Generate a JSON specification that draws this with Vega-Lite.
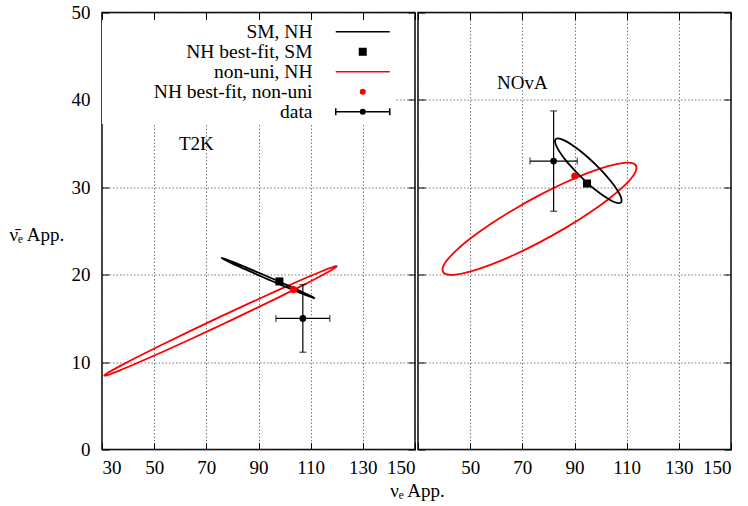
{
  "$schema": "https://vega.github.io/schema/vega-lite/v6.json",
  "padding": {"left": 8, "top": 2.5, "right": 2, "bottom": 0},
  "bounds": "flush",
  "spacing": 3,
  "datasets": {
    "ell": [
      {"e":"T2K","s":"non-uni, NH","k":0,"x":120.00,"y":20.96},
      {"e":"T2K","s":"non-uni, NH","k":1,"x":118.48,"y":20.62},
      {"e":"T2K","s":"non-uni, NH","k":2,"x":114.03,"y":19.88},
      {"e":"T2K","s":"non-uni, NH","k":3,"x":106.95,"y":18.78},
      {"e":"T2K","s":"non-uni, NH","k":4,"x":97.72,"y":17.41},
      {"e":"T2K","s":"non-uni, NH","k":5,"x":86.97,"y":15.86},
      {"e":"T2K","s":"non-uni, NH","k":6,"x":75.44,"y":14.22},
      {"e":"T2K","s":"non-uni, NH","k":7,"x":63.91,"y":12.62},
      {"e":"T2K","s":"non-uni, NH","k":8,"x":53.16,"y":11.16},
      {"e":"T2K","s":"non-uni, NH","k":9,"x":43.93,"y":9.95},
      {"e":"T2K","s":"non-uni, NH","k":10,"x":36.85,"y":9.05},
      {"e":"T2K","s":"non-uni, NH","k":11,"x":32.40,"y":8.55},
      {"e":"T2K","s":"non-uni, NH","k":12,"x":30.88,"y":8.46},
      {"e":"T2K","s":"non-uni, NH","k":13,"x":32.40,"y":8.80},
      {"e":"T2K","s":"non-uni, NH","k":14,"x":36.85,"y":9.54},
      {"e":"T2K","s":"non-uni, NH","k":15,"x":43.93,"y":10.64},
      {"e":"T2K","s":"non-uni, NH","k":16,"x":53.16,"y":12.01},
      {"e":"T2K","s":"non-uni, NH","k":17,"x":63.91,"y":13.57},
      {"e":"T2K","s":"non-uni, NH","k":18,"x":75.44,"y":15.20},
      {"e":"T2K","s":"non-uni, NH","k":19,"x":86.97,"y":16.80},
      {"e":"T2K","s":"non-uni, NH","k":20,"x":97.72,"y":18.26},
      {"e":"T2K","s":"non-uni, NH","k":21,"x":106.95,"y":19.48},
      {"e":"T2K","s":"non-uni, NH","k":22,"x":114.03,"y":20.37},
      {"e":"T2K","s":"non-uni, NH","k":23,"x":118.48,"y":20.87},
      {"e":"T2K","s":"SM, NH","k":0,"x":111.40,"y":17.33},
      {"e":"T2K","s":"SM, NH","k":1,"x":110.80,"y":17.37},
      {"e":"T2K","s":"SM, NH","k":2,"x":109.02,"y":17.56},
      {"e":"T2K","s":"SM, NH","k":3,"x":106.20,"y":17.90},
      {"e":"T2K","s":"SM, NH","k":4,"x":102.53,"y":18.35},
      {"e":"T2K","s":"SM, NH","k":5,"x":98.24,"y":18.88},
      {"e":"T2K","s":"SM, NH","k":6,"x":93.65,"y":19.47},
      {"e":"T2K","s":"SM, NH","k":7,"x":89.06,"y":20.07},
      {"e":"T2K","s":"SM, NH","k":8,"x":84.78,"y":20.64},
      {"e":"T2K","s":"SM, NH","k":9,"x":81.10,"y":21.13},
      {"e":"T2K","s":"SM, NH","k":10,"x":78.28,"y":21.53},
      {"e":"T2K","s":"SM, NH","k":11,"x":76.51,"y":21.79},
      {"e":"T2K","s":"SM, NH","k":12,"x":75.90,"y":21.91},
      {"e":"T2K","s":"SM, NH","k":13,"x":76.51,"y":21.87},
      {"e":"T2K","s":"SM, NH","k":14,"x":78.28,"y":21.68},
      {"e":"T2K","s":"SM, NH","k":15,"x":81.10,"y":21.35},
      {"e":"T2K","s":"SM, NH","k":16,"x":84.78,"y":20.90},
      {"e":"T2K","s":"SM, NH","k":17,"x":89.06,"y":20.36},
      {"e":"T2K","s":"SM, NH","k":18,"x":93.65,"y":19.77},
      {"e":"T2K","s":"SM, NH","k":19,"x":98.24,"y":19.17},
      {"e":"T2K","s":"SM, NH","k":20,"x":102.53,"y":18.61},
      {"e":"T2K","s":"SM, NH","k":21,"x":106.20,"y":18.11},
      {"e":"T2K","s":"SM, NH","k":22,"x":109.02,"y":17.71},
      {"e":"T2K","s":"SM, NH","k":23,"x":110.80,"y":17.45},
      {"e":"NOvA","s":"non-uni, NH","k":0,"x":113.78,"y":32.23},
      {"e":"NOvA","s":"non-uni, NH","k":1,"x":112.51,"y":31.33},
      {"e":"NOvA","s":"non-uni, NH","k":2,"x":108.80,"y":30.10},
      {"e":"NOvA","s":"non-uni, NH","k":3,"x":102.89,"y":28.61},
      {"e":"NOvA","s":"non-uni, NH","k":4,"x":95.19,"y":26.98},
      {"e":"NOvA","s":"non-uni, NH","k":5,"x":86.22,"y":25.30},
      {"e":"NOvA","s":"non-uni, NH","k":6,"x":76.59,"y":23.70},
      {"e":"NOvA","s":"non-uni, NH","k":7,"x":66.97,"y":22.28},
      {"e":"NOvA","s":"non-uni, NH","k":8,"x":58.00,"y":21.15},
      {"e":"NOvA","s":"non-uni, NH","k":9,"x":50.29,"y":20.37},
      {"e":"NOvA","s":"non-uni, NH","k":10,"x":44.38,"y":20.00},
      {"e":"NOvA","s":"non-uni, NH","k":11,"x":40.67,"y":20.07},
      {"e":"NOvA","s":"non-uni, NH","k":12,"x":39.40,"y":20.57},
      {"e":"NOvA","s":"non-uni, NH","k":13,"x":40.67,"y":21.47},
      {"e":"NOvA","s":"non-uni, NH","k":14,"x":44.38,"y":22.70},
      {"e":"NOvA","s":"non-uni, NH","k":15,"x":50.29,"y":24.19},
      {"e":"NOvA","s":"non-uni, NH","k":16,"x":58.00,"y":25.82},
      {"e":"NOvA","s":"non-uni, NH","k":17,"x":66.97,"y":27.50},
      {"e":"NOvA","s":"non-uni, NH","k":18,"x":76.59,"y":29.10},
      {"e":"NOvA","s":"non-uni, NH","k":19,"x":86.22,"y":30.52},
      {"e":"NOvA","s":"non-uni, NH","k":20,"x":95.19,"y":31.65},
      {"e":"NOvA","s":"non-uni, NH","k":21,"x":102.89,"y":32.43},
      {"e":"NOvA","s":"non-uni, NH","k":22,"x":108.80,"y":32.80},
      {"e":"NOvA","s":"non-uni, NH","k":23,"x":112.51,"y":32.73},
      {"e":"NOvA","s":"SM, NH","k":0,"x":108.07,"y":28.50},
      {"e":"NOvA","s":"SM, NH","k":1,"x":107.64,"y":28.23},
      {"e":"NOvA","s":"SM, NH","k":2,"x":106.36,"y":28.21},
      {"e":"NOvA","s":"SM, NH","k":3,"x":104.33,"y":28.44},
      {"e":"NOvA","s":"SM, NH","k":4,"x":101.69,"y":28.91},
      {"e":"NOvA","s":"SM, NH","k":5,"x":98.61,"y":29.57},
      {"e":"NOvA","s":"SM, NH","k":6,"x":95.30,"y":30.40},
      {"e":"NOvA","s":"SM, NH","k":7,"x":92.00,"y":31.33},
      {"e":"NOvA","s":"SM, NH","k":8,"x":88.92,"y":32.30},
      {"e":"NOvA","s":"SM, NH","k":9,"x":86.27,"y":33.23},
      {"e":"NOvA","s":"SM, NH","k":10,"x":84.24,"y":34.08},
      {"e":"NOvA","s":"SM, NH","k":11,"x":82.97,"y":34.78},
      {"e":"NOvA","s":"SM, NH","k":12,"x":82.53,"y":35.28},
      {"e":"NOvA","s":"SM, NH","k":13,"x":82.97,"y":35.55},
      {"e":"NOvA","s":"SM, NH","k":14,"x":84.24,"y":35.57},
      {"e":"NOvA","s":"SM, NH","k":15,"x":86.27,"y":35.34},
      {"e":"NOvA","s":"SM, NH","k":16,"x":88.92,"y":34.88},
      {"e":"NOvA","s":"SM, NH","k":17,"x":92.00,"y":34.21},
      {"e":"NOvA","s":"SM, NH","k":18,"x":95.30,"y":33.38},
      {"e":"NOvA","s":"SM, NH","k":19,"x":98.61,"y":32.45},
      {"e":"NOvA","s":"SM, NH","k":20,"x":101.69,"y":31.49},
      {"e":"NOvA","s":"SM, NH","k":21,"x":104.33,"y":30.55},
      {"e":"NOvA","s":"SM, NH","k":22,"x":106.36,"y":29.70},
      {"e":"NOvA","s":"SM, NH","k":23,"x":107.64,"y":29.00}
    ],
    "best": [
      {"e":"T2K","s":"NH best-fit, SM","x":98.0,"y":19.23},
      {"e":"T2K","s":"NH best-fit, non-uni","x":103.4,"y":18.29},
      {"e":"NOvA","s":"NH best-fit, SM","x":94.8,"y":30.43},
      {"e":"NOvA","s":"NH best-fit, non-uni","x":90.1,"y":31.28}
    ],
    "obs": [
      {"e":"T2K","x":107,"y":15,"xlo":96.66,"xhi":117.34,"ylo":11.13,"yhi":18.87},
      {"e":"NOvA","x":82,"y":33,"xlo":72.94,"xhi":91.06,"ylo":27.26,"yhi":38.74}
    ],
    "lab": [
      {"e":"T2K","t":"T2K","x":59.5,"y":34.9},
      {"e":"NOvA","t":"NOvA","x":60.3,"y":41.9}
    ]
  },
  "config": {
    "view": {"stroke": "black", "strokeWidth": 1.5},
    "font": "Liberation Serif",
    "axis": {
      "grid": true, "gridColor": "#555555", "gridDash": [1.5, 2], "gridWidth": 0.8,
      "domain": false, "tickColor": "black", "tickSize": -7, "tickWidth": 1,
      "labelFont": "Liberation Serif", "labelFontSize": 19, "labelColor": "black",
      "titleFont": "Liberation Serif", "titleFontSize": 19, "titleFontWeight": "normal", "titleColor": "black"
    },
    "axisX": {"labelPadding": 16},
    "axisY": {"labelPadding": 19}
  },
  "resolve": {"scale": {"color": "independent"}, "legend": {"color": "independent"}},
  "hconcat": [
    {
      "width": 313, "height": 437,
      "resolve": {"axis": {"x": "independent", "y": "independent"}},
      "layer": [
        {
          "layer": [
            {
              "data": {"name": "ell"},
              "transform": [{"filter": "datum.e === 'T2K'"}],
              "mark": {"type": "line", "interpolate": "cardinal-closed", "strokeWidth": 1.8},
              "encoding": {
                "x": {"field": "x", "type": "quantitative", "scale": {"domain": [30, 150], "nice": false, "zero": false},
                      "axis": {"orient": "bottom", "values": [30, 50, 70, 90, 110, 130, 150], "title": "\u03bd\u2091 App.", "titleX": 315, "titleY": 47, "titleBaseline": "alphabetic"}},
                "y": {"field": "y", "type": "quantitative", "scale": {"domain": [0, 50], "nice": false, "zero": false},
                      "axis": {"orient": "left", "values": [0, 10, 20, 30, 40, 50], "title": "\u03bd\u0304\u2091 App.", "titleAngle": 0, "titleAlign": "left", "titleBaseline": "middle", "titleX": -93, "titleY": 222}},
                "color": {
                  "field": "s", "type": "nominal",
                  "scale": {"domain": ["SM, NH", "NH best-fit, SM", "non-uni, NH", "NH best-fit, non-uni", "data"],
                            "range": ["#000000", "#000000", "#ff0000", "#ff0000", "#000000"]},
                  "legend": {
                    "orient": "none", "legendX": 0, "legendY": 7.6, "padding": 2,
                    "fillColor": "white", "title": null,
                    "symbolSize": 100, "symbolOffset": 249, "labelOffset": -60, "labelAlign": "right",
                    "labelFont": "Liberation Serif", "labelFontSize": 19.5, "labelColor": "black", "labelLimit": 0,
                    "rowPadding": -1.8,
                    "encode": {
                      "symbols": {"update": {
                        "shape": {"signal": "(datum.value === 'SM, NH' || datum.value === 'non-uni, NH') ? 'M-5.4,0H5.4' : datum.value === 'NH best-fit, SM' ? 'M-0.65,-0.65H0.65V0.65H-0.65Z' : datum.value === 'NH best-fit, non-uni' ? 'M-0.45,0A0.45,0.45,0,1,0,0.45,0A0.45,0.45,0,1,0,-0.45,0Z' : 'M-5.4,0H5.4M-5.4,-0.7V0.7M5.4,-0.7V0.7M-0.45,0A0.45,0.45,0,1,0,0.45,0A0.45,0.45,0,1,0,-0.45,0Z'"},
                        "stroke": {"signal": "(datum.value === 'non-uni, NH' || datum.value === 'NH best-fit, non-uni') ? '#ff0000' : '#000000'"},
                        "fill": {"signal": "(datum.value === 'non-uni, NH' || datum.value === 'NH best-fit, non-uni') ? '#ff0000' : '#000000'"},
                        "strokeWidth": {"value": 1.5},
                        "opacity": {"value": 1},
                        "fillOpacity": {"value": 1},
                        "strokeOpacity": {"value": 1}
                      }}
                    }
                  }
                },
                "order": {"field": "k", "type": "quantitative"}
              }
            },
            {
              "data": {"name": "best"},
              "transform": [{"filter": "datum.e === 'T2K' && datum.s === 'NH best-fit, SM'"}],
              "mark": {"type": "point", "shape": "square", "filled": true, "size": 64, "color": "#000000", "opacity": 1},
              "encoding": {"x": {"field": "x", "type": "quantitative"}, "y": {"field": "y", "type": "quantitative"}}
            },
            {
              "data": {"name": "best"},
              "transform": [{"filter": "datum.e === 'T2K' && datum.s === 'NH best-fit, non-uni'"}],
              "mark": {"type": "point", "shape": "circle", "filled": true, "size": 50, "color": "#ff0000", "opacity": 1},
              "encoding": {"x": {"field": "x", "type": "quantitative"}, "y": {"field": "y", "type": "quantitative"}}
            },
            {
              "data": {"name": "obs"},
              "transform": [{"filter": "datum.e === 'T2K'"}],
              "mark": {"type": "errorbar", "ticks": {"size": 7, "thickness": 1.2}, "thickness": 1.2, "color": "#000000"},
              "encoding": {"x": {"field": "xlo", "type": "quantitative", "title": "\u03bd\u2091 App."}, "x2": {"field": "xhi"}, "y": {"field": "y", "type": "quantitative", "title": "\u03bd\u0304\u2091 App."}}
            },
            {
              "data": {"name": "obs"},
              "transform": [{"filter": "datum.e === 'T2K'"}],
              "mark": {"type": "errorbar", "ticks": {"size": 7, "thickness": 1.2}, "thickness": 1.2, "color": "#000000"},
              "encoding": {"y": {"field": "ylo", "type": "quantitative", "title": "\u03bd\u0304\u2091 App."}, "y2": {"field": "yhi"}, "x": {"field": "x", "type": "quantitative", "title": "\u03bd\u2091 App."}}
            },
            {
              "data": {"name": "obs"},
              "transform": [{"filter": "datum.e === 'T2K'"}],
              "mark": {"type": "point", "shape": "circle", "filled": true, "size": 45, "color": "#000000", "opacity": 1},
              "encoding": {"x": {"field": "x", "type": "quantitative"}, "y": {"field": "y", "type": "quantitative"}}
            }
          ]
        },
        {
          "data": {"name": "lab"},
          "transform": [{"filter": "datum.e === 'T2K'"}],
          "mark": {"type": "text", "align": "left", "baseline": "middle", "font": "Liberation Serif", "fontSize": 19, "color": "#000000"},
          "encoding": {
            "x": {"field": "x", "type": "quantitative", "axis": {"orient": "top", "values": [30, 50, 70, 90, 110, 130, 150], "labels": false, "grid": false, "title": null}},
            "y": {"field": "y", "type": "quantitative", "axis": {"orient": "right", "values": [0, 10, 20, 30, 40, 50], "labels": false, "grid": false, "title": null}},
            "text": {"field": "t"}
          }
        }
      ]
    },
    {
      "width": 313, "height": 437,
      "resolve": {"axis": {"x": "independent", "y": "independent"}},
      "layer": [
        {
          "layer": [
            {
              "data": {"name": "ell"},
              "transform": [{"filter": "datum.e === 'NOvA'"}],
              "mark": {"type": "line", "interpolate": "cardinal-closed", "strokeWidth": 1.8},
              "encoding": {
                "x": {"field": "x", "type": "quantitative", "scale": {"domain": [30, 150], "nice": false, "zero": false},
                      "axis": {"orient": "bottom", "values": [30, 50, 70, 90, 110, 130, 150], "title": null, "labelExpr": "datum.value == 30 ? '' : datum.label"}},
                "y": {"field": "y", "type": "quantitative", "scale": {"domain": [0, 50], "nice": false, "zero": false},
                      "axis": {"orient": "left", "values": [0, 10, 20, 30, 40, 50], "title": null, "labels": false}},
                "color": {
                  "field": "s", "type": "nominal",
                  "scale": {"domain": ["SM, NH", "NH best-fit, SM", "non-uni, NH", "NH best-fit, non-uni", "data"],
                            "range": ["#000000", "#000000", "#ff0000", "#ff0000", "#000000"]},
                  "legend": null
                },
                "order": {"field": "k", "type": "quantitative"}
              }
            },
            {
              "data": {"name": "best"},
              "transform": [{"filter": "datum.e === 'NOvA' && datum.s === 'NH best-fit, SM'"}],
              "mark": {"type": "point", "shape": "square", "filled": true, "size": 64, "color": "#000000", "opacity": 1},
              "encoding": {"x": {"field": "x", "type": "quantitative"}, "y": {"field": "y", "type": "quantitative"}}
            },
            {
              "data": {"name": "best"},
              "transform": [{"filter": "datum.e === 'NOvA' && datum.s === 'NH best-fit, non-uni'"}],
              "mark": {"type": "point", "shape": "circle", "filled": true, "size": 50, "color": "#ff0000", "opacity": 1},
              "encoding": {"x": {"field": "x", "type": "quantitative"}, "y": {"field": "y", "type": "quantitative"}}
            },
            {
              "data": {"name": "obs"},
              "transform": [{"filter": "datum.e === 'NOvA'"}],
              "mark": {"type": "errorbar", "ticks": {"size": 7, "thickness": 1.2}, "thickness": 1.2, "color": "#000000"},
              "encoding": {"x": {"field": "xlo", "type": "quantitative"}, "x2": {"field": "xhi"}, "y": {"field": "y", "type": "quantitative"}}
            },
            {
              "data": {"name": "obs"},
              "transform": [{"filter": "datum.e === 'NOvA'"}],
              "mark": {"type": "errorbar", "ticks": {"size": 7, "thickness": 1.2}, "thickness": 1.2, "color": "#000000"},
              "encoding": {"y": {"field": "ylo", "type": "quantitative"}, "y2": {"field": "yhi"}, "x": {"field": "x", "type": "quantitative"}}
            },
            {
              "data": {"name": "obs"},
              "transform": [{"filter": "datum.e === 'NOvA'"}],
              "mark": {"type": "point", "shape": "circle", "filled": true, "size": 45, "color": "#000000", "opacity": 1},
              "encoding": {"x": {"field": "x", "type": "quantitative"}, "y": {"field": "y", "type": "quantitative"}}
            }
          ]
        },
        {
          "data": {"name": "lab"},
          "transform": [{"filter": "datum.e === 'NOvA'"}],
          "mark": {"type": "text", "align": "left", "baseline": "middle", "font": "Liberation Serif", "fontSize": 19, "color": "#000000"},
          "encoding": {
            "x": {"field": "x", "type": "quantitative", "axis": {"orient": "top", "values": [30, 50, 70, 90, 110, 130, 150], "labels": false, "grid": false, "title": null}},
            "y": {"field": "y", "type": "quantitative", "axis": {"orient": "right", "values": [0, 10, 20, 30, 40, 50], "labels": false, "grid": false, "title": null}},
            "text": {"field": "t"}
          }
        }
      ]
    }
  ]
}
